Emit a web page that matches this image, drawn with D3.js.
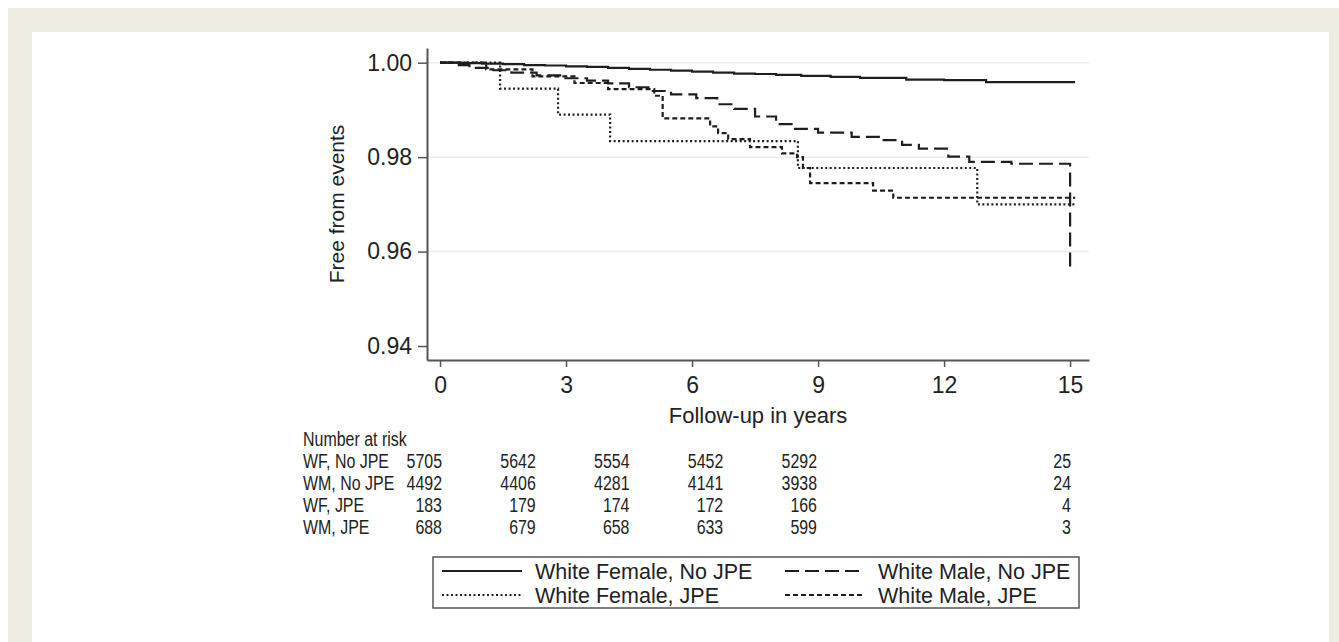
<!DOCTYPE html>
<html>
<head>
<meta charset="utf-8">
<script src="https://cdn.jsdelivr.net/npm/d3@7"></script>
<style>
body { margin:0; background:#fff; }
text { font-family: "Liberation Sans", Arial, sans-serif; fill:#222; }
</style>
</head>
<body>
<svg id="chart"></svg>
<script>
// survival estimates: [years, proportion free from events]
var wfNoJpe = [[0,1.0],[0.5,0.9999],[1.0,0.9998],[1.5,0.9997],[2.0,0.9995],[2.5,0.9994],[3.0,0.9992],
    [3.5,0.9991],[4.0,0.9989],[4.5,0.9987],[5.0,0.9985],[5.5,0.9983],[6.0,0.9981],[6.5,0.9979],
    [7.0,0.9977],[7.5,0.9976],[8.0,0.9974],[8.6,0.9972],[9.3,0.9970],[10.0,0.9968],[11.1,0.9964],
    [12.0,0.9963],[13.0,0.9959],[15.12,0.9959]];
var wmNoJpe = [[0,1.0],[0.3,0.9995],[0.7,0.9989],[1.2,0.9984],[1.7,0.9979],[2.3,0.9973],[2.9,0.9967],
    [3.5,0.9962],[4.0,0.9956],[4.5,0.9948],[5.0,0.9940],[5.5,0.9933],[6.1,0.9925],[6.6,0.9912],
    [7.0,0.9902],[7.5,0.9886],[8.0,0.9870],[8.4,0.9860],[9.0,0.9852],[9.8,0.9843],[10.5,0.9836],
    [11.0,0.9826],[11.4,0.9818],[12.1,0.9801],[12.6,0.9790],[13.6,0.9786],[15.0,0.9566],[15.12,0.9566]];
var wfJpe = [[0,1.0],[1.43,0.9945],[2.81,0.9890],[4.05,0.9834],[8.52,0.9777],[12.79,0.9700],[15.12,0.9700]];
var wmJpe = [[0,1.0],[1.1,0.9986],[2.2,0.9971],[3.2,0.9957],[4.0,0.9944],[5.1,0.9930],[5.3,0.9882],
    [6.43,0.9865],[6.62,0.9851],[6.86,0.9838],[7.38,0.9821],[8.14,0.9808],[8.5,0.9800],[8.64,0.9777],
    [8.81,0.9745],[10.31,0.9729],[10.79,0.9714],[15.12,0.9714]];

// number at risk table
var riskYears = [0,3,6,9,12,15];
var riskLabels = ["WF, No JPE","WM, No JPE","WF, JPE","WM, JPE"];
var riskWfNoJpe = [5705,5642,5554,5452,5292,25];
var riskWmNoJpe = [4492,4406,4281,4141,3938,24];
var riskWfJpe = [183,179,174,172,166,4];
var riskWmJpe = [688,679,658,633,599,3];

var legendLabels = ["White Female, No JPE","White Male, No JPE","White Female, JPE","White Male, JPE"];
var xTicks = [0,3,6,9,12,15];
var yTicks = [0.94,0.96,0.98,1.00];
var yGrid = [0.96,0.98,1.00];

var screen = {width:1339,height:642};
var dashes = ["none","14,6","2,2.5","5,3"];

var svg = d3.select("#chart")
    .attr("width",screen.width)
    .attr("height",screen.height);

// beige frame
svg.append("rect").attr("x",8).attr("y",8)
    .attr("width",screen.width-8).attr("height",screen.height-8)
    .attr("fill","#efece2");
svg.append("rect").attr("x",32).attr("y",32)
    .attr("width",1297).attr("height",screen.height-32)
    .attr("fill","#fff");

var xScale = d3.scaleLinear()
    .domain([-0.31,15.45])
    .range([427,1089]);

var yScale = d3.scaleLinear()
    .domain([0.93704,1.00311])
    .range([360,48]);

// grid
svg.append("g").selectAll("line")
    .data(yGrid)
    .enter()
    .append("line")
    .attr("x1",427).attr("x2",1089)
    .attr("y1",function(d){return yScale(d);})
    .attr("y2",function(d){return yScale(d);})
    .attr("stroke","#ececec")
    .attr("stroke-width",1.5);

var drawAxes = function()
{
    var yAxis = d3.axisLeft(yScale)
        .tickValues(yTicks)
        .tickFormat(d3.format(".2f"))
        .tickSize(9)
        .tickSizeOuter(0)
        .tickPadding(6);
    var ya = svg.append("g")
        .attr("transform","translate(427,0)")
        .call(yAxis);

    var xAxis = d3.axisBottom(xScale)
        .tickValues(xTicks)
        .tickSize(7)
        .tickSizeOuter(0)
        .tickPadding(10);
    var xa = svg.append("g")
        .attr("transform","translate(0,360)")
        .call(xAxis);

    [ya,xa].forEach(function(a)
    {
        a.select(".domain").attr("stroke","#555").attr("stroke-width",2);
        a.selectAll(".tick line").attr("stroke","#555").attr("stroke-width",1.5);
        a.selectAll(".tick text")
            .attr("font-size",23)
            .attr("font-family","Liberation Sans, Arial, sans-serif")
            .attr("fill","#222");
    });
}

var drawCurves = function()
{
    var lineGenerator = d3.line()
        .x(function(d){return xScale(d[0]);})
        .y(function(d){return yScale(d[1]);})
        .curve(d3.curveStepAfter);

    var series = [wfNoJpe,wmNoJpe,wfJpe,wmJpe];
    svg.append("g")
        .selectAll("path")
        .data(series)
        .enter()
        .append("path")
        .attr("d",lineGenerator)
        .attr("fill","none")
        .attr("stroke","#1e1e1e")
        .attr("stroke-width",2.2)
        .attr("stroke-dasharray",function(d,i){return dashes[i];});
}

var drawLabels = function()
{
    svg.append("text")
        .text("Free from events")
        .attr("text-anchor","middle")
        .attr("font-size",21)
        .attr("transform","translate(344,204) rotate(-90)");

    svg.append("text")
        .text("Follow-up in years")
        .attr("text-anchor","middle")
        .attr("font-size",22)
        .attr("x",(427+1089)/2)
        .attr("y",423);
}

var drawRiskTable = function()
{
    // columns of the table sit on their own spacing, right aligned;
    // the table type is set narrow, as in the original
    var colScale = d3.scaleLinear()
        .domain([0,12,15])
        .range([442,817,1071]);
    var rowY = d3.scaleLinear()
        .domain([0,4])
        .range([446,534]);
    var squeeze = 0.76;

    var t = svg.append("g");
    t.append("text").text("Number at risk")
        .attr("font-size",21)
        .attr("transform","translate(303,"+rowY(0)+") scale("+squeeze+",1)");

    var rows = [riskWfNoJpe,riskWmNoJpe,riskWfJpe,riskWmJpe];
    rows.forEach(function(r,i)
    {
        t.append("text").text(riskLabels[i])
            .attr("font-size",21)
            .attr("transform","translate(303,"+rowY(i+1)+") scale("+squeeze+",1)");
        t.selectAll(".n"+i)
            .data(r)
            .enter()
            .append("text")
            .attr("class","n"+i)
            .text(function(d){return d;})
            .attr("text-anchor","end")
            .attr("font-size",21)
            .attr("transform",function(d,j)
            {
                return "translate("+colScale(riskYears[j])+","+rowY(i+1)+") scale("+squeeze+",1)";
            });
    });
}

var drawLegend = function()
{
    var box = {x:433,y:557,w:646,h:51};
    var g = svg.append("g");
    g.append("rect")
        .attr("x",box.x).attr("y",box.y)
        .attr("width",box.w).attr("height",box.h)
        .attr("fill","#fff")
        .attr("stroke","#555")
        .attr("stroke-width",1.5);

    var items = g.selectAll("g.item")
        .data(legendLabels)
        .enter()
        .append("g")
        .attr("transform",function(d,i)
        {
            var cx = (i%2==0) ? 442 : 785;
            var cy = box.y+14+Math.floor(i/2)*24;
            return "translate("+cx+","+cy+")";
        });
    items.append("line")
        .attr("x1",0).attr("x2",80)
        .attr("y1",0).attr("y2",0)
        .attr("stroke","#1e1e1e")
        .attr("stroke-width",2)
        .attr("stroke-dasharray",function(d,i){return dashes[i];});
    items.append("text")
        .text(function(d){return d;})
        .attr("x",93)
        .attr("y",8)
        .attr("font-size",21.5);
}

drawAxes();
drawCurves();
drawLabels();
drawRiskTable();
drawLegend();
</script>
</body>
</html>
